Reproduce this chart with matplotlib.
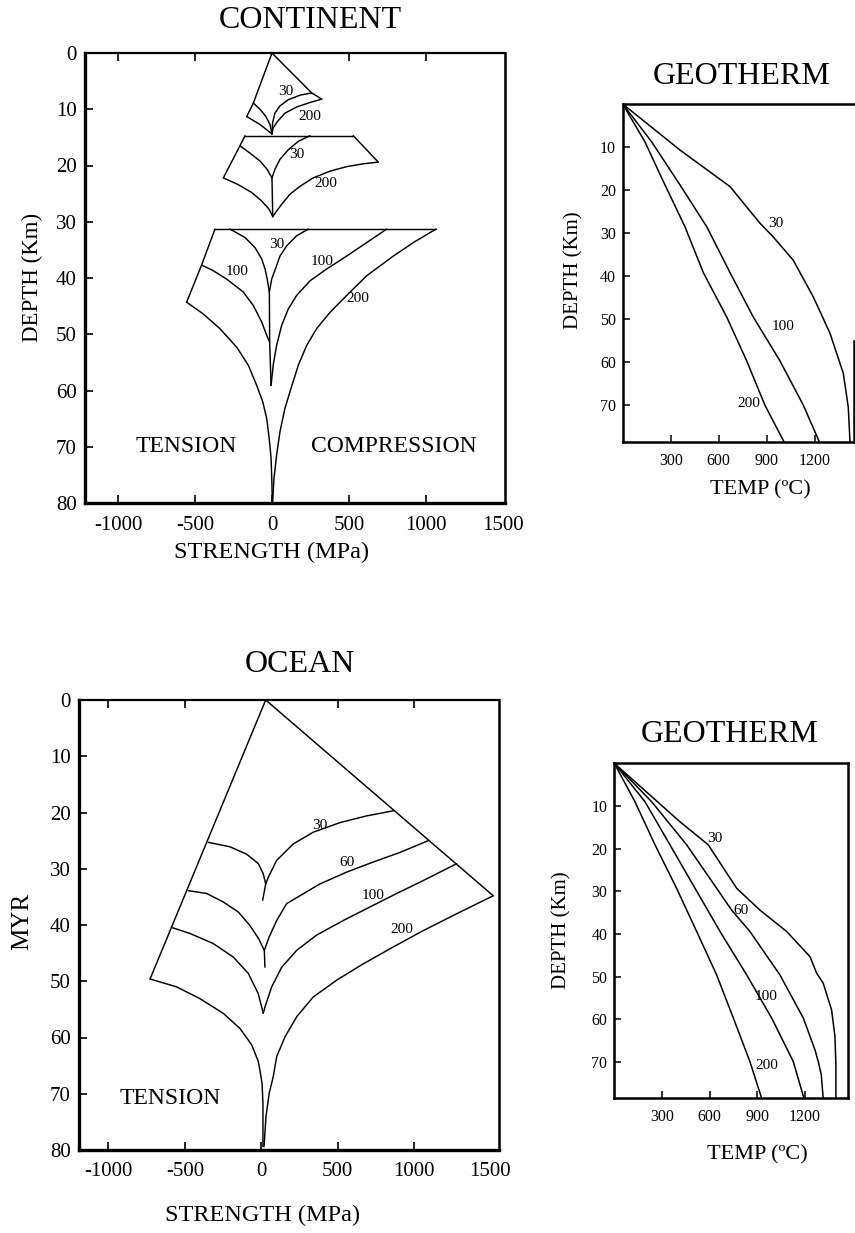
import matplotlib
matplotlib.use("Agg")
import matplotlib.pyplot as plt

plt.rcParams['font.family'] = ['Liberation Serif', 'DejaVu Serif']

# ---------------- DATA ----------------
# Continent strength envelopes: (strength MPa, depth km)
# upper crust layer
CU_BRITTLE_T = [(0, 0), (-121, 8.9), (-164, 11.3)]
CU_BRITTLE_C = [(0, 0), (258, 7.1), (323, 8.2)]
CU_T30 = [(-121, 8.9), (-78, 10.0), (-39, 11.3), (-13, 12.7), (0, 14.4)]
CU_T200 = [(-164, 11.3), (-78, 12.7), (0, 14.4)]
CU_C30 = [(258, 7.1), (182, 7.5), (106, 8.3), (52, 9.4), (19, 10.7), (4, 12.4), (0, 14.4)]
CU_C200 = [(323, 8.2), (247, 8.8), (160, 9.6), (84, 10.7), (35, 12.2), (8, 13.3), (0, 14.4)]
# middle crust layer
CM_TOP = [(-175, 14.7), (528, 14.7)]
CM_BRITTLE_T = [(-175, 14.7), (-208, 16.5), (-316, 22.2)]
CM_BRITTLE_C = [(528, 14.7), (690, 19.4)]
CM_T30 = [(-208, 16.5), (-143, 17.8), (-78, 19.2), (-31, 20.7), (0, 22.2)]
CM_C30 = [(247, 14.7), (171, 15.7), (106, 17.2), (52, 18.9), (19, 20.7), (0, 22.2)]
CM_SPINE = [(0, 22.2), (5, 29.1)]
CM_T200 = [(-316, 22.2), (-219, 23.4), (-132, 24.8), (-67, 26.3), (-18, 27.8), (5, 29.1)]
CM_C200 = [(690, 19.4), (593, 19.7), (485, 20.2), (377, 21.0), (268, 22.2), (182, 23.7),
           (117, 25.1), (63, 26.9), (30, 28.1), (5, 29.1)]
# lithospheric mantle layer
CL_TOP = [(-370, 31.3), (1065, 31.3)]
CL_BRITTLE_T = [(-370, 31.3), (-457, 37.7), (-554, 44.3)]
CL_T30 = [(-273, 31.3), (-175, 32.8), (-110, 34.6), (-67, 36.6), (-45, 38.4), (-31, 40.2), (-17, 42.5)]
CL_C30 = [(236, 31.3), (160, 32.5), (95, 34.3), (52, 36.1), (30, 37.8), (-2, 40.2), (-17, 42.5)]
CL_SPINE = [(-17, 42.5), (-15, 51.4), (-6, 59.1)]
CL_T100 = [(-457, 37.7), (-381, 38.7), (-294, 40.2), (-186, 42.5), (-121, 44.9), (-67, 47.8),
           (-34, 50.2), (-15, 51.4)]
CL_C100 = [(745, 31.3), (615, 33.7), (485, 36.1), (355, 38.4), (247, 40.5), (160, 43.1),
           (106, 45.5), (63, 48.4), (30, 52.0), (8, 55.5), (-6, 59.1)]
CL_T200 = [(-554, 44.3), (-446, 46.4), (-338, 49.0), (-229, 52.3), (-154, 55.5), (-99, 59.1),
           (-60, 62.0), (-34, 65.0), (-18, 68.5), (-6, 72.0), (0, 76.8), (2, 80)]
CL_C200 = [(1065, 31.3), (918, 33.7), (788, 36.1), (615, 39.6), (485, 43.1), (377, 46.1),
           (290, 49.0), (225, 52.0), (171, 55.5), (117, 60.2), (84, 63.2), (52, 67.3),
           (30, 71.5), (13, 75.6), (4, 80)]
CONT_LABELS = [("30", 89, 6.8), ("200", 247, 11.2), ("30", 164, 18.1), ("200", 351, 23.2),
               ("30", 30, 34.1), ("100", 325, 37.0), ("100", -229, 38.9), ("200", 560, 43.7)]

# Ocean strength envelopes: (strength MPa, age MYR)
OC_BRITTLE_T = [(29, 0), (-728, 49.6)]
OC_BRITTLE_C = [(29, 0), (1518, 34.8)]
OC_T30 = [(-347, 25.3), (-205, 26.1), (-96, 27.4), (-19, 29.1), (13, 30.9), (29, 32.7)]
OC_C30 = [(864, 19.7), (690, 20.6), (515, 21.8), (340, 23.5), (209, 25.6), (101, 28.5),
          (46, 31.5), (29, 32.7)]
OC_TAIL30 = [(29, 32.7), (9, 35.6)]
OC_T60 = [(-477, 33.9), (-357, 34.4), (-249, 35.9), (-150, 37.7), (-74, 40.1), (-18, 42.4), (20, 44.5)]
OC_C60 = [(1093, 25.0), (908, 27.1), (733, 28.8), (559, 30.6), (384, 32.7), (253, 34.8),
          (166, 36.2), (101, 39.2), (52, 42.1), (20, 44.5)]
OC_TAIL60 = [(20, 44.5), (24, 47.5)]
OC_T100 = [(-580, 40.5), (-467, 41.5), (-314, 43.3), (-183, 45.7), (-85, 48.6), (-20, 52.2), (13, 55.7)]
OC_C100 = [(1279, 29.1), (1060, 32.1), (886, 34.4), (711, 36.8), (537, 39.2), (362, 41.8),
           (232, 44.5), (134, 47.5), (68, 51.0), (24, 54.6), (13, 55.7)]
OC_T200 = [(-728, 49.6), (-554, 51.0), (-401, 53.1), (-249, 55.7), (-139, 58.4), (-63, 61.3),
           (-20, 64.2), (-9, 65.8), (5, 68.1), (11, 71.7), (11, 79.4)]
OC_C200 = [(1518, 34.8), (1279, 38.0), (1060, 41.0), (864, 43.9), (668, 46.9), (494, 49.8),
           (340, 52.8), (232, 56.3), (155, 59.9), (101, 63.4), (78, 67.0), (52, 69.9),
           (31, 74.0), (18, 79.4)]
OCEAN_LABELS = [("30", 380, 22.3), ("60", 559, 28.8), ("100", 733, 34.8), ("200", 919, 40.8)]

# Geotherms: (temperature C, depth km)
GT_30 = [(0, 0), (358, 10.7), (671, 19.2), (858, 27.7), (941, 30.9), (1066, 36.3), (1191, 44.8),
         (1296, 53.3), (1379, 62.6), (1410, 70.4), (1421, 78.5)]
GT_100 = [(0, 0), (181, 8.8), (358, 18.8), (525, 28.5), (671, 39.2), (816, 49.5), (983, 59.7),
          (1129, 70.0), (1229, 78.5)]
GT_200 = [(0, 0), (139, 8.8), (264, 18.8), (389, 28.5), (504, 39.2), (650, 49.5), (775, 59.7),
          (889, 70.0), (1008, 78.5)]
GT_LABELS = [("30", 960, 27.7), ("100", 1000, 51.8), ("200", 790, 69.6)]

GB_30 = [(0, 0), (413, 13.7), (591, 19.1), (770, 29.3), (916, 34.4), (1084, 39.4), (1231, 45.3),
         (1273, 49.2), (1314, 51.5), (1367, 57.8), (1388, 64.0), (1394, 70.7), (1394, 78.5)]
GB_60 = [(0, 0), (235, 9.0), (455, 19.1), (644, 29.3), (738, 34.4), (853, 39.4), (1042, 49.6),
         (1189, 59.7), (1262, 67.1), (1283, 69.9), (1302, 73.0), (1314, 78.5)]
GB_100 = [(0, 0), (193, 9.0), (350, 19.1), (508, 29.3), (665, 39.4), (833, 49.6), (990, 59.7),
          (1126, 69.9), (1193, 78.5)]
GB_200 = [(0, 0), (130, 9.0), (256, 19.1), (392, 29.3), (518, 39.4), (644, 49.6), (749, 59.7),
          (853, 69.9), (927, 78.5)]
GB_LABELS = [("30", 633, 17.6), ("60", 795, 34.5), ("100", 958, 54.7), ("200", 958, 70.7)]

STRENGTH_TICKS = [-1000, -500, 0, 500, 1000, 1500]
DEPTH_TICKS = [0, 10, 20, 30, 40, 50, 60, 70, 80]
GEO_DEPTH_TICKS = [10, 20, 30, 40, 50, 60, 70]
TEMP_TICKS = [300, 600, 900, 1200]

# ---------------- FIGURE ----------------
W, H = 855, 1233
fig = plt.figure(figsize=(W / 100, H / 100), dpi=100)


def add_ax(l, t, r, b):
    return fig.add_axes([l / W, 1 - b / H, (r - l) / W, (b - t) / H])


def ftext(x, y, s, **kw):
    kw.setdefault('ha', 'center')
    kw.setdefault('va', 'center')
    fig.text(x / W, 1 - y / H, s, **kw)


def draw(ax, pts, lw=1.05):
    xs = [p[0] for p in pts]
    ys = [p[1] for p in pts]
    ax.plot(xs, ys, color='black', lw=lw, solid_joinstyle='round', solid_capstyle='round')


def style_strength(ax, xlim):
    ax.set_xlim(*xlim)
    ax.set_ylim(80, 0)
    ax.set_xticks(STRENGTH_TICKS)
    ax.set_xticklabels([str(v) for v in STRENGTH_TICKS])
    ax.set_yticks(DEPTH_TICKS)
    ax.set_yticklabels([str(v) for v in DEPTH_TICKS])
    ax.tick_params(axis='both', direction='in', length=6, width=1.2, labelsize=15,
                   top=True, right=False, pad=6)
    ax.tick_params(axis='x', pad=9)
    for loc, tk in zip(STRENGTH_TICKS, ax.xaxis.get_major_ticks()):
        if loc in (0, 1500):
            tk.tick2line.set_visible(False)
        if loc == 1500:
            tk.tick1line.set_visible(False)
    for s, w in [('left', 2.4), ('bottom', 2.4), ('top', 1.6), ('right', 1.8)]:
        ax.spines[s].set_linewidth(w)


def style_geo(ax, xlim):
    ax.set_xlim(*xlim)
    ax.set_ylim(78.5, 0)
    ax.set_xticks(TEMP_TICKS)
    ax.set_xticklabels([str(v) for v in TEMP_TICKS])
    ax.set_yticks(GEO_DEPTH_TICKS)
    ax.set_yticklabels([str(v) for v in GEO_DEPTH_TICKS])
    ax.tick_params(axis='both', direction='in', length=5, width=1.1, labelsize=11.5, pad=5)
    ax.tick_params(axis='x', pad=8)
    for s in ['left', 'bottom', 'top', 'right']:
        ax.spines[s].set_linewidth(1.8)


# ---- Continent ----
axc = add_ax(85, 53, 505, 503)
style_strength(axc, (-1214, 1513))
for seg in [CU_BRITTLE_T, CU_BRITTLE_C, CU_T30, CU_T200, CU_C30, CU_C200,
            CM_TOP, CM_BRITTLE_T, CM_BRITTLE_C, CM_T30, CM_C30, CM_SPINE, CM_T200, CM_C200,
            CL_TOP, CL_BRITTLE_T, CL_T30, CL_C30, CL_SPINE, CL_T100, CL_C100, CL_T200, CL_C200]:
    draw(axc, seg)
for s, x, y in CONT_LABELS:
    axc.text(x, y, s, fontsize=11, ha='center', va='center')
axc.text(-554, 70, "TENSION", fontsize=17, ha='center', va='center')
axc.text(788, 70, "COMPRESSION", fontsize=17, ha='center', va='center')

ftext(310, 20, "CONTINENT", fontsize=23)
ftext(272, 552, "STRENGTH (MPa)", fontsize=17.5)
ftext(32, 277, "DEPTH (Km)", fontsize=16.5, rotation=90)

# ---- Ocean ----
axo = add_ax(79, 700, 499, 1150)
style_strength(axo, (-1193, 1556))
for seg in [OC_BRITTLE_T, OC_BRITTLE_C, OC_T30, OC_C30, OC_TAIL30, OC_T60, OC_C60, OC_TAIL60,
            OC_T100, OC_C100, OC_T200, OC_C200]:
    draw(axo, seg)
for s, x, y in OCEAN_LABELS:
    axo.text(x, y, s, fontsize=11, ha='center', va='center')
axo.text(-598, 70.8, "TENSION", fontsize=17, ha='center', va='center')

ftext(300, 665, "OCEAN", fontsize=23)
ftext(263, 1215, "STRENGTH (MPa)", fontsize=17.5)
ftext(22, 921, "MYR", fontsize=18, rotation=90)

# ---- Geotherm (continent) ----
axg1 = add_ax(622.7, 104, 854, 441.7)
style_geo(axg1, (0, 1446))
for seg in [GT_30, GT_100, GT_200]:
    draw(axg1, seg, lw=1.1)
for s, x, y in GT_LABELS:
    axg1.text(x, y, s, fontsize=11, ha='center', va='center')
axg1.spines['right'].set_bounds(55, 78.5)
ftext(742, 76, "GEOTHERM", fontsize=23)
ftext(574, 270, "DEPTH (Km)", fontsize=15, rotation=90)
ftext(760, 490, "TEMP (\u00baC)", fontsize=16)

# ---- Geotherm (ocean) ----
axg2 = add_ax(614.3, 763.3, 848.3, 1098.3)
style_geo(axg2, (0, 1472))
for seg in [GB_30, GB_60, GB_100, GB_200]:
    draw(axg2, seg, lw=1.1)
for s, x, y in GB_LABELS:
    axg2.text(x, y, s, fontsize=11, ha='center', va='center')
ftext(730, 735, "GEOTHERM", fontsize=23)
ftext(562, 930, "DEPTH (Km)", fontsize=15, rotation=90)
ftext(757, 1155, "TEMP (\u00baC)", fontsize=16)

fig.savefig("out.png", dpi=100)
